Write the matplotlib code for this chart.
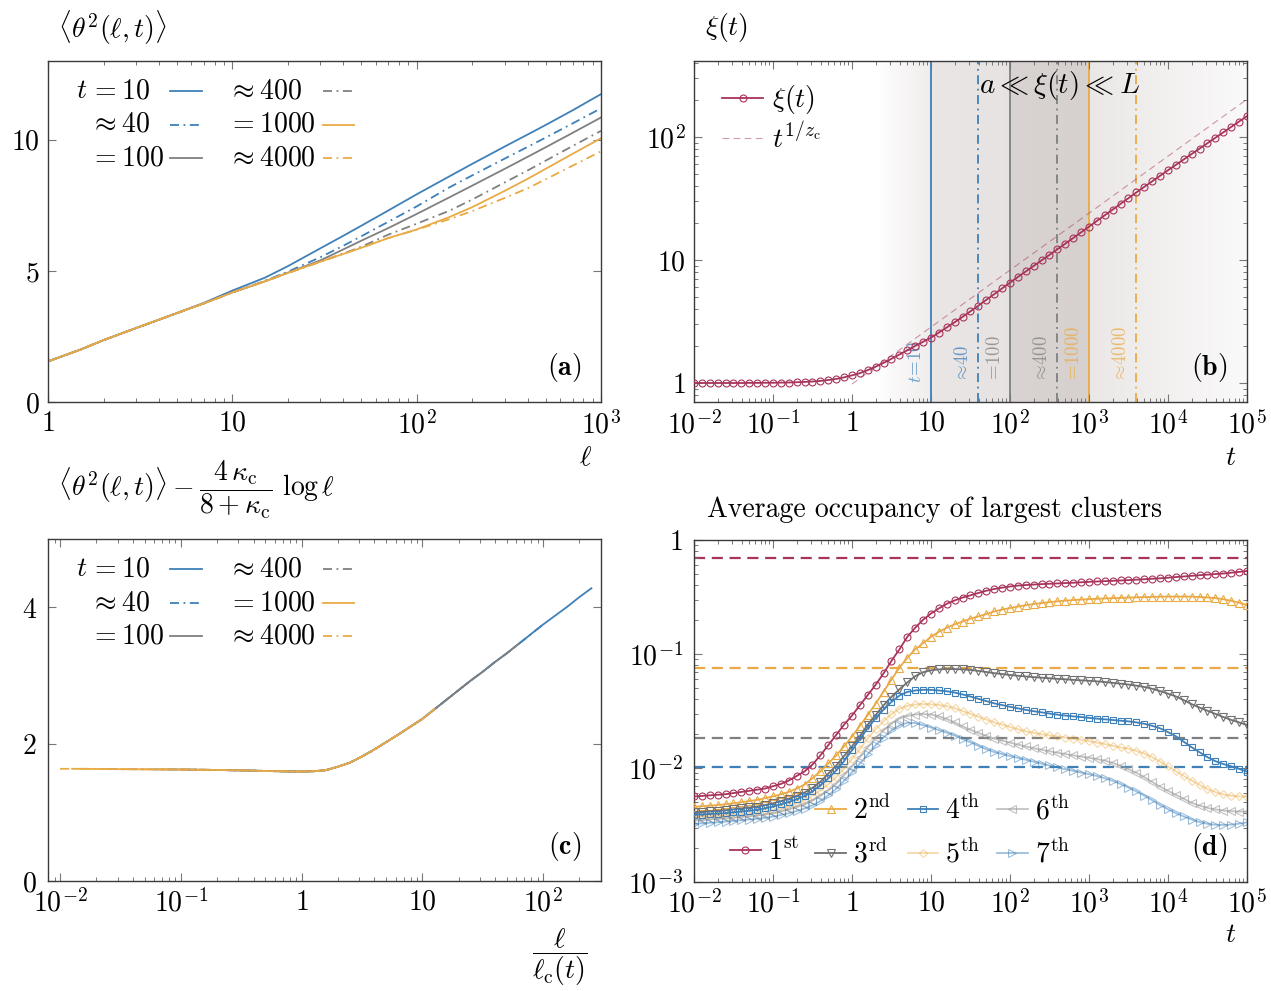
import numpy as np
import matplotlib
matplotlib.use("Agg")
import matplotlib.pyplot as plt
from matplotlib.lines import Line2D
from matplotlib.ticker import FixedLocator, FixedFormatter, LogLocator, NullFormatter

plt.rcParams["mathtext.fontset"] = "cm"
plt.rcParams["font.family"] = "serif"
plt.rcParams["font.serif"] = ["cmr10", "DejaVu Serif"]
plt.rcParams["axes.unicode_minus"] = False

RED = "#a8345a"
BLUE = "#3f80b9"
GRAY = "#808080"
ORANGE = "#e9aa45"
FS = 20
DASHDOT = (0, (5, 2.5, 1, 2.5))

# times of the six snapshots
t_marks = [10, 39.8, 100, 398, 1000, 3981]
t_rel = ["=", r"\approx", "=", r"\approx", "=", r"\approx"]
t_text = ["10", "40", "100", "400", "1000", "4000"]
snap_colors = [BLUE, BLUE, GRAY, GRAY, ORANGE, ORANGE]
snap_styles = ["-", DASHDOT, "-", DASHDOT, "-", DASHDOT]

# (a) <theta^2(l, t)> against segment length l
ell = [1, 1.5, 2, 3, 4, 5, 7, 10, 15, 20, 30, 40, 50, 70, 100, 150, 200, 300, 400, 500, 700, 1000]
theta2_t10 = [1.55, 2.0, 2.36, 2.82, 3.14, 3.39, 3.78, 4.25, 4.74, 5.18, 5.86, 6.34, 6.72, 7.3, 7.92,
              8.6, 9.08, 9.74, 10.2, 10.56, 11.12, 11.74]
theta2_t40 = [1.55, 2.0, 2.36, 2.82, 3.14, 3.39, 3.76, 4.18, 4.62, 4.97, 5.52, 5.96, 6.32, 6.87, 7.46,
              8.18, 8.64, 9.28, 9.73, 10.08, 10.62, 11.2]
theta2_t100 = [1.55, 2.0, 2.36, 2.82, 3.14, 3.39, 3.76, 4.18, 4.6, 4.93, 5.4, 5.82, 6.15, 6.63, 7.17,
               7.8, 8.25, 8.89, 9.35, 9.71, 10.26, 10.85]
theta2_t400 = [1.55, 2.0, 2.36, 2.82, 3.14, 3.39, 3.76, 4.18, 4.6, 4.92, 5.35, 5.66, 5.92, 6.38, 6.8,
               7.29, 7.72, 8.37, 8.83, 9.2, 9.76, 10.34]
theta2_t1000 = [1.55, 2.0, 2.36, 2.82, 3.14, 3.39, 3.76, 4.18, 4.6, 4.92, 5.35, 5.65, 5.88, 6.25, 6.58,
                7.05, 7.43, 8.05, 8.51, 8.89, 9.46, 10.06]
theta2_t4000 = [1.55, 2.0, 2.36, 2.82, 3.14, 3.39, 3.76, 4.18, 4.6, 4.92, 5.35, 5.65, 5.88, 6.25, 6.57,
                6.97, 7.28, 7.78, 8.15, 8.49, 9.01, 9.56]
theta2_curves = [theta2_t10, theta2_t40, theta2_t100, theta2_t400, theta2_t1000, theta2_t4000]

# (c) subtracted curve against l / l_c(t), log10 grid of l / l_c
collapse_logx = np.linspace(-2.0, 2.4, 45)
collapse_y = [1.64, 1.64, 1.64, 1.638, 1.637, 1.635, 1.634, 1.633, 1.632, 1.631,
              1.63, 1.628, 1.626, 1.623, 1.62, 1.617, 1.613, 1.609, 1.605, 1.602,
              1.60, 1.605, 1.62, 1.67, 1.73, 1.82, 1.92, 2.03, 2.14, 2.255,
              2.37, 2.51, 2.65, 2.79, 2.93, 3.06, 3.2, 3.33, 3.47, 3.61,
              3.75, 3.88, 4.01, 4.15, 4.28]
# range of log10(l / l_c) covered by each snapshot
collapse_lo = [-0.6, -1.0, -1.2, -1.6, -1.9, -2.0]
collapse_hi = [2.4, 2.0, 1.8, 1.4, 1.1, 1.0]

# (b) correlation length, log10 values on t = 10^-2 ... 10^5 in steps of 0.1 decade
t_grid = np.logspace(-2, 5, 71)
xi_log = [0, 0, 0, 0, 0, 0, 0, 0.001, 0.001, 0.002,
          0.002, 0.003, 0.004, 0.006, 0.009, 0.012, 0.017, 0.024, 0.033, 0.046,
          0.062, 0.08, 0.105, 0.133, 0.163, 0.197, 0.231, 0.266, 0.301, 0.335,
          0.369, 0.41, 0.452, 0.494, 0.538, 0.583, 0.629, 0.676, 0.722, 0.769,
          0.816, 0.862, 0.907, 0.952, 0.997, 1.042, 1.087, 1.133, 1.179, 1.225,
          1.271, 1.318, 1.364, 1.41, 1.457, 1.503, 1.55, 1.595, 1.64, 1.685,
          1.73, 1.774, 1.818, 1.862, 1.906, 1.95, 1.994, 2.038, 2.082, 2.126,
          2.17]
fit_t = [1, 1e5]
fit_xi = [0.98, 203]

# background band: log10 t and grey level
shade_logt = [-2.0, 0.3, 0.999, 1.001, 1.999, 2.001, 2.999, 3.001, 5.0]
shade_level = [255, 255, 239, 233, 230, 216, 214, 234, 250]

# (d) occupancy of the seven largest clusters, log10 values on t_grid
occ_1st = [-2.25, -2.245, -2.24, -2.235, -2.23, -2.22, -2.21, -2.20, -2.19, -2.18,
           -2.16, -2.14, -2.11, -2.07, -2.03, -1.97, -1.89, -1.80, -1.71, -1.62,
           -1.54, -1.45, -1.36, -1.27, -1.17, -1.06, -0.96, -0.85, -0.77, -0.70,
           -0.645, -0.60, -0.56, -0.53, -0.505, -0.485, -0.465, -0.445, -0.43, -0.418,
           -0.408, -0.40, -0.395, -0.391, -0.387, -0.384, -0.381, -0.378, -0.375, -0.371,
           -0.367, -0.364, -0.361, -0.358, -0.355, -0.352, -0.348, -0.344, -0.34, -0.336,
           -0.331, -0.325, -0.32, -0.314, -0.309, -0.304, -0.299, -0.294, -0.287, -0.28,
           -0.272]
occ_2nd = [-2.34, -2.335, -2.33, -2.325, -2.318, -2.31, -2.30, -2.29, -2.28, -2.265,
           -2.25, -2.23, -2.21, -2.18, -2.145, -2.09, -2.03, -1.96, -1.89, -1.81,
           -1.725, -1.63, -1.535, -1.435, -1.33, -1.225, -1.12, -1.035, -0.96, -0.905,
           -0.85, -0.805, -0.77, -0.74, -0.715, -0.69, -0.67, -0.65, -0.627, -0.61,
           -0.597, -0.584, -0.572, -0.562, -0.553, -0.545, -0.538, -0.532, -0.527, -0.523,
           -0.519, -0.516, -0.513, -0.51, -0.508, -0.505, -0.503, -0.501, -0.499, -0.497,
           -0.496, -0.496, -0.496, -0.497, -0.5, -0.504, -0.51, -0.52, -0.533, -0.55,
           -0.57]
occ_3rd = [-2.39, -2.385, -2.38, -2.375, -2.37, -2.362, -2.354, -2.346, -2.338, -2.325,
           -2.31, -2.29, -2.27, -2.245, -2.215, -2.175, -2.12, -2.05, -1.98, -1.895,
           -1.81, -1.72, -1.62, -1.535, -1.45, -1.375, -1.31, -1.25, -1.195, -1.16,
           -1.143, -1.135, -1.132, -1.132, -1.135, -1.14, -1.148, -1.158, -1.168, -1.176,
           -1.184, -1.191, -1.197, -1.203, -1.208, -1.213, -1.218, -1.222, -1.227, -1.231,
           -1.235, -1.24, -1.246, -1.253, -1.26, -1.268, -1.278, -1.289, -1.305, -1.325,
           -1.348, -1.372, -1.405, -1.44, -1.47, -1.498, -1.525, -1.553, -1.578, -1.6,
           -1.623]
occ_4th = [-2.412, -2.408, -2.404, -2.4, -2.396, -2.389, -2.382, -2.375, -2.367, -2.354,
           -2.339, -2.319, -2.298, -2.275, -2.245, -2.205, -2.152, -2.092, -2.022, -1.94,
           -1.845, -1.745, -1.65, -1.562, -1.488, -1.42, -1.365, -1.333, -1.32, -1.314,
           -1.315, -1.32, -1.327, -1.338, -1.355, -1.373, -1.393, -1.413, -1.433, -1.448,
           -1.463, -1.477, -1.49, -1.502, -1.512, -1.522, -1.532, -1.54, -1.547, -1.553,
           -1.56, -1.567, -1.573, -1.579, -1.585, -1.591, -1.6, -1.612, -1.63, -1.652,
           -1.685, -1.722, -1.77, -1.818, -1.862, -1.905, -1.94, -1.965, -1.985, -2.008,
           -2.032]
occ_5th = [-2.43, -2.427, -2.424, -2.421, -2.417, -2.41, -2.403, -2.396, -2.39, -2.38,
           -2.368, -2.35, -2.333, -2.31, -2.283, -2.245, -2.198, -2.142, -2.08, -2.005,
           -1.922, -1.835, -1.74, -1.66, -1.59, -1.527, -1.48, -1.455, -1.443, -1.439,
           -1.441, -1.447, -1.458, -1.475, -1.5, -1.525, -1.55, -1.575, -1.6, -1.62,
           -1.64, -1.66, -1.678, -1.692, -1.704, -1.714, -1.723, -1.733, -1.743, -1.753,
           -1.764, -1.777, -1.79, -1.805, -1.82, -1.832, -1.85, -1.873, -1.905, -1.944,
           -1.985, -2.028, -2.07, -2.11, -2.148, -2.185, -2.212, -2.232, -2.243, -2.249,
           -2.252]
occ_6th = [-2.46, -2.456, -2.451, -2.446, -2.441, -2.435, -2.429, -2.423, -2.417, -2.408,
           -2.398, -2.38, -2.362, -2.342, -2.32, -2.287, -2.245, -2.198, -2.14, -2.064,
           -1.987, -1.905, -1.818, -1.737, -1.67, -1.612, -1.567, -1.543, -1.531, -1.527,
           -1.531, -1.547, -1.57, -1.6, -1.635, -1.665, -1.692, -1.718, -1.742, -1.76,
           -1.777, -1.795, -1.811, -1.826, -1.84, -1.853, -1.866, -1.878, -1.889, -1.9,
           -1.91, -1.922, -1.935, -1.955, -1.98, -2.01, -2.042, -2.08, -2.122, -2.164,
           -2.2, -2.235, -2.27, -2.305, -2.33, -2.35, -2.363, -2.373, -2.379, -2.382,
           -2.383]
occ_7th = [-2.49, -2.486, -2.481, -2.476, -2.47, -2.464, -2.458, -2.452, -2.446, -2.437,
           -2.427, -2.412, -2.397, -2.378, -2.356, -2.327, -2.29, -2.24, -2.182, -2.112,
           -2.038, -1.962, -1.88, -1.8, -1.733, -1.67, -1.626, -1.604, -1.605, -1.624,
           -1.645, -1.668, -1.69, -1.715, -1.745, -1.775, -1.805, -1.835, -1.86, -1.878,
           -1.895, -1.912, -1.928, -1.945, -1.962, -1.978, -1.995, -2.01, -2.025, -2.04,
           -2.054, -2.07, -2.09, -2.113, -2.14, -2.172, -2.205, -2.242, -2.283, -2.325,
           -2.362, -2.396, -2.425, -2.452, -2.475, -2.49, -2.498, -2.5, -2.497, -2.488,
           -2.477]
occ_curves = [occ_1st, occ_2nd, occ_3rd, occ_4th, occ_5th, occ_6th, occ_7th]
occ_names = [r"$1^{\mathrm{st}}$", r"$2^{\mathrm{nd}}$", r"$3^{\mathrm{rd}}$", r"$4^{\mathrm{th}}$",
             r"$5^{\mathrm{th}}$", r"$6^{\mathrm{th}}$", r"$7^{\mathrm{th}}$"]
occ_colors = [RED, ORANGE, "#707070", BLUE, ORANGE, "#9a9a9a", BLUE]
occ_alpha = [1, 1, 1, 1, 0.45, 0.6, 0.5]
occ_markers = ["o", "^", "v", "s", "D", "<", ">"]
occ_msize = [5, 5.5, 5.5, 4.5, 4.2, 5.5, 5.5]
# saturation levels, same order as the first four clusters
occ_limits = [0.698, 0.076, 0.0182, 0.0101]
limit_colors = [RED, ORANGE, GRAY, BLUE]


def pow_label(k):
    if k == 0:
        return "$1$"
    if k == 1:
        return "$10$"
    return "$10^{%d}$" % k


def style_axes(ax):
    for s in ax.spines.values():
        s.set_color("#3a3a3a")
        s.set_linewidth(1.0)
    ax.tick_params(which="both", direction="in", top=True, right=True,
                   color="#777777", labelsize=FS, pad=6)
    ax.tick_params(which="major", length=5.5, width=0.8)
    ax.tick_params(which="minor", length=3.0, width=0.7)


def log_axis(axis, k_lo, k_hi):
    ks = list(range(k_lo, k_hi + 1))
    axis.set_major_locator(FixedLocator([10.0 ** k for k in ks]))
    axis.set_major_formatter(FixedFormatter([pow_label(k) for k in ks]))
    axis.set_minor_locator(LogLocator(base=10, subs=np.arange(2, 10), numticks=50))
    axis.set_minor_formatter(NullFormatter())


def lin_axis(axis, ticks):
    axis.set_major_locator(FixedLocator(ticks))
    axis.set_major_formatter(FixedFormatter(["$%g$" % v for v in ticks]))


def snapshot_legend(ax):
    rows = [0.912, 0.813, 0.716]
    for i in range(6):
        col, row = divmod(i, 3)
        y = rows[row]
        ax.text(0.076 + 0.249 * col, y, "$%s %s$" % (t_rel[i], t_text[i]),
                transform=ax.transAxes, ha="left", va="center", fontsize=FS)
        x0 = 0.221 + 0.276 * col
        ax.plot([x0, x0 + 0.057], [y, y], transform=ax.transAxes,
                color=snap_colors[i], ls=snap_styles[i], lw=1.3)
    ax.text(0.07, rows[0], "$t$", transform=ax.transAxes, ha="right", va="center", fontsize=FS)


fig = plt.figure(figsize=(12.71, 9.91), dpi=100)
ax_a = fig.add_axes([0.0378, 0.5943, 0.4351, 0.3441])
ax_b = fig.add_axes([0.5460, 0.5943, 0.4351, 0.3441])
ax_c = fig.add_axes([0.0378, 0.1110, 0.4351, 0.3451])
ax_d = fig.add_axes([0.5460, 0.1100, 0.4351, 0.3451])

# ---- (a) ----
for y, c, ls in zip(theta2_curves, snap_colors, snap_styles):
    ax_a.plot(ell, y, color=c, ls=ls, lw=1.3)
ax_a.set_xscale("log")
ax_a.set_xlim(1, 1000)
ax_a.set_ylim(0, 13)
log_axis(ax_a.xaxis, 0, 3)
lin_axis(ax_a.yaxis, [0, 5, 10])
style_axes(ax_a)
snapshot_legend(ax_a)
ax_a.text(0.965, 0.10, r"$(\mathbf{a})$", transform=ax_a.transAxes, ha="right", va="center", fontsize=FS)
ax_a.text(0.018, 1.097, r"$\langle\theta^2(\ell,t)\rangle$", transform=ax_a.transAxes,
          ha="left", va="center", fontsize=FS)
ax_a.text(0.971, -0.165, r"$\ell$", transform=ax_a.transAxes, ha="center", va="center", fontsize=FS)

# ---- (b) ----
edges = np.linspace(-2, 5, 281)
for a, b in zip(edges[:-1], edges[1:]):
    g = np.interp(0.5 * (a + b), shade_logt, shade_level)
    d = 255 - g
    ax_b.axvspan(10 ** a, 10 ** b, color=(g / 255, (g - 0.15 * d) / 255, (g - 0.2 * d) / 255),
                 lw=0, zorder=0)
for tm, c, ls, rel, txt in zip(t_marks, snap_colors, snap_styles, t_rel, t_text):
    ax_b.axvline(tm, color=c, ls=ls, lw=1.3, zorder=1)
    lab = r"$t\!=\!%s$" % txt if tm == t_marks[0] else r"$%s\!%s$" % (rel, txt)
    ax_b.text(tm / 10 ** 0.19, 1.0, lab, rotation=90, ha="center", va="bottom",
              color=c, alpha=0.75, fontsize=13.5, zorder=2)
ax_b.plot(fit_t, fit_xi, color=RED, alpha=0.5, lw=0.8, dashes=(6, 4), zorder=3)
ax_b.plot(t_grid, 10 ** np.array(xi_log), color=RED, lw=1.3, marker="o", ms=5,
          mfc="none", mew=0.8, zorder=4)
ax_b.set_xscale("log")
ax_b.set_yscale("log")
ax_b.set_xlim(1e-2, 1e5)
ax_b.set_ylim(0.7, 415)
log_axis(ax_b.xaxis, -2, 5)
log_axis(ax_b.yaxis, 0, 2)
style_axes(ax_b)
ax_b.text(10 ** 2.63, 10 ** 2.42, r"$a \ll \xi(t) \ll L$", ha="center", va="center",
          fontsize=21, zorder=5)
leg_b = ax_b.legend(
    [Line2D([], [], color=RED, lw=1.3, marker="o", ms=5, mfc="none", mew=0.8),
     Line2D([], [], color=RED, alpha=0.5, lw=0.8, dashes=(6, 4))],
    [r"$\xi(t)$", r"$t^{1/z_{\mathrm{c}}}$"],
    loc="upper left", bbox_to_anchor=(0.01, 1.0), frameon=False, fontsize=FS,
    handlelength=1.5, handletextpad=0.3, labelspacing=0.2, borderpad=0.3)
ax_b.text(0.964, 0.10, r"$(\mathbf{b})$", transform=ax_b.transAxes, ha="right", va="center", fontsize=FS)
ax_b.text(0.02, 1.097, r"$\xi(t)$", transform=ax_b.transAxes, ha="left", va="center", fontsize=FS)
ax_b.text(0.971, -0.165, r"$t$", transform=ax_b.transAxes, ha="center", va="center", fontsize=FS)

# ---- (c) ----
cy = np.array(collapse_y)
for lo, hi, c, ls in zip(collapse_lo, collapse_hi, snap_colors, snap_styles):
    sel = (collapse_logx > lo - 1e-6) & (collapse_logx < hi + 1e-6)
    ax_c.plot(10 ** collapse_logx[sel], cy[sel], color=c, ls=ls, lw=1.3)
ax_c.set_xscale("log")
ax_c.set_xlim(10 ** -2.1, 10 ** 2.48)
ax_c.set_ylim(0, 5)
log_axis(ax_c.xaxis, -2, 2)
lin_axis(ax_c.yaxis, [0, 2, 4])
style_axes(ax_c)
ax_c.tick_params(axis="y", pad=8)
snapshot_legend(ax_c)
ax_c.text(0.965, 0.10, r"$(\mathbf{c})$", transform=ax_c.transAxes, ha="right", va="center", fontsize=FS)
ax_c.text(0.018, 1.143,
          r"$\langle\theta^2(\ell,t)\rangle - \dfrac{4\,\kappa_{\mathrm{c}}}{8+\kappa_{\mathrm{c}}}\ \log\ell$",
          transform=ax_c.transAxes, ha="left", va="center", fontsize=FS)
ax_c.text(0.926, -0.222, r"$\dfrac{\ell}{\ell_{\mathrm{c}}(t)}$", transform=ax_c.transAxes,
          ha="center", va="center", fontsize=FS)

# ---- (d) ----
for v, c in zip(occ_limits, limit_colors):
    ax_d.axhline(v, color=c, lw=1.6, dashes=(5, 3), zorder=1)
handles = []
for y, c, a, m, ms in zip(occ_curves, occ_colors, occ_alpha, occ_markers, occ_msize):
    ln, = ax_d.plot(t_grid, 10 ** np.array(y), color=c, alpha=a, lw=1.3, marker=m, ms=ms,
                    mfc="none", mew=0.8, zorder=3)
    handles.append(ln)
for ln in handles[4:]:
    ln.set_zorder(2)
ax_d.set_xscale("log")
ax_d.set_yscale("log")
ax_d.set_xlim(1e-2, 1e5)
ax_d.set_ylim(1e-3, 1)
log_axis(ax_d.xaxis, -2, 5)
log_axis(ax_d.yaxis, -3, 0)
style_axes(ax_d)
ax_d.tick_params(axis="y", pad=8)
blank = Line2D([], [], color="none")
ax_d.legend([blank] + handles, [""] + occ_names, ncol=4, loc="lower left",
            bbox_to_anchor=(0.025, -0.025), frameon=False, fontsize=FS,
            handlelength=1.1, handletextpad=0.25, columnspacing=0.6, labelspacing=0.5,
            borderpad=0.3)
ax_d.text(0.964, 0.10, r"$(\mathbf{d})$", transform=ax_d.transAxes, ha="right", va="center", fontsize=FS)
ax_d.text(0.024, 1.088, "Average occupancy of largest clusters", transform=ax_d.transAxes,
          ha="left", va="center", fontsize=FS)
ax_d.text(0.971, -0.155, r"$t$", transform=ax_d.transAxes, ha="center", va="center", fontsize=FS)

fig.savefig("out.png", dpi=100)
